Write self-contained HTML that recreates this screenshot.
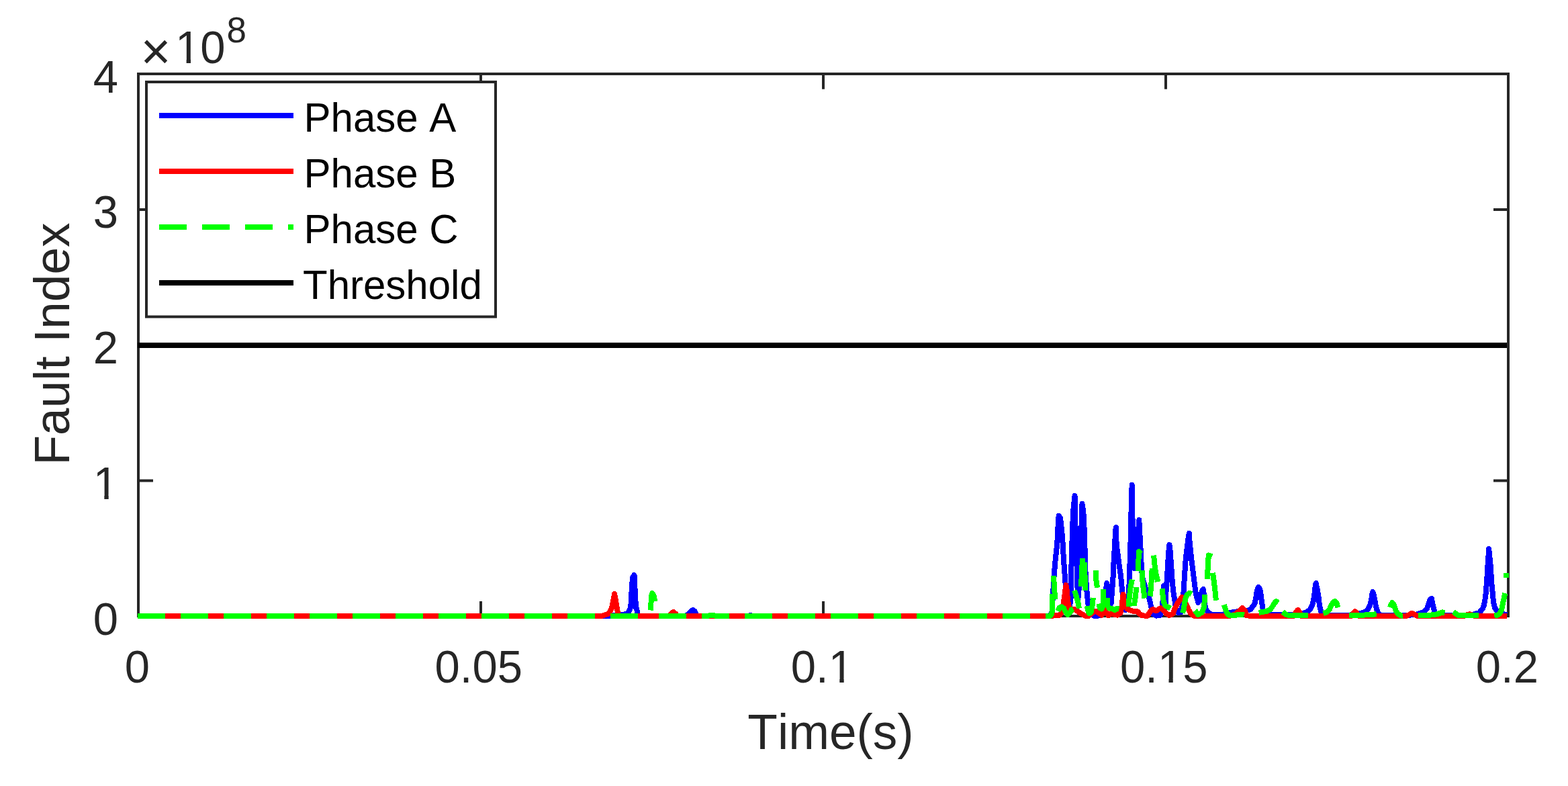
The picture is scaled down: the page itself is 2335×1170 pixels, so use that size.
<!DOCTYPE html>
<html lang="en">
<head>
<meta charset="utf-8">
<title>Fault Index vs Time</title>
<style>
html,body{margin:0;padding:0;background:#fff;}
body{width:2335px;height:1170px;overflow:hidden;}
svg{display:block;}
text{font-family:"Liberation Sans",sans-serif;font-kerning:none;font-variant-ligatures:none;}
.tick{font-size:67px;fill:#262626;}
.lab{font-size:73px;fill:#262626;}
.leg{font-size:60px;fill:#000;}
.ax{stroke:#262626;stroke-width:4;fill:none;stroke-linecap:butt;}
.d{fill:none;stroke-width:8;stroke-linejoin:round;stroke-linecap:butt;}
</style>
</head>
<body>
<svg width="2335" height="1170" viewBox="0 0 2335 1170">
<rect x="0" y="0" width="2335" height="1170" fill="#fff"/>
<g class="ax">
<rect x="206" y="110" width="2040" height="807"/>
<line x1="716" y1="917" x2="716" y2="895"/>
<line x1="716" y1="110" x2="716" y2="132.7"/>
<line x1="1226" y1="917" x2="1226" y2="895"/>
<line x1="1226" y1="110" x2="1226" y2="132.7"/>
<line x1="1736" y1="917" x2="1736" y2="895"/>
<line x1="1736" y1="110" x2="1736" y2="132.7"/>
<line x1="206" y1="715.50" x2="228" y2="715.50"/>
<line x1="2246" y1="715.50" x2="2224" y2="715.50"/>
<line x1="206" y1="513.60" x2="228" y2="513.60"/>
<line x1="2246" y1="513.60" x2="2224" y2="513.60"/>
<line x1="206" y1="312.00" x2="228" y2="312.00"/>
<line x1="2246" y1="312.00" x2="2224" y2="312.00"/>
</g>
<text class="tick" transform="translate(176.0 944.5) scale(1 1.01)" text-anchor="end">0</text>
<text class="tick" transform="translate(176.0 742.8) scale(1 1.01)" text-anchor="end">1</text>
<text class="tick" transform="translate(176.0 541.0) scale(1 1.01)" text-anchor="end">2</text>
<text class="tick" transform="translate(176.0 339.2) scale(1 1.01)" text-anchor="end">3</text>
<text class="tick" transform="translate(176.0 137.5) scale(1 1.01)" text-anchor="end">4</text>
<text class="tick" transform="translate(204.4 1016.0) scale(1 1.01)" text-anchor="middle">0</text>
<text class="tick" transform="translate(712.8 1016.0) scale(1 1.01)" text-anchor="middle">0.05</text>
<text class="tick" transform="translate(1224.4 1016.0) scale(1 1.01)" text-anchor="middle">0.1</text>
<text class="tick" transform="translate(1733.2 1016.0) scale(1 1.01)" text-anchor="middle">0.15</text>
<text class="tick" transform="translate(2244.4 1016.0) scale(1 1.01)" text-anchor="middle">0.2</text>
<text class="tick" x="209.5" y="103" style="font-size:77px">×</text>
<text class="tick" transform="translate(261.0 94.0) scale(1 1.01)">10</text>
<text class="tick" transform="translate(337.6 62.6) scale(1 1.01)" style="font-size:53px">8</text>
<text class="lab" transform="translate(1237 1114.8) scale(1 1.02)" text-anchor="middle">Time(s)</text>
<text class="lab" transform="translate(103.3 512) rotate(-90) scale(1 1.02)" text-anchor="middle">Fault Index</text>
<rect x="142.6" y="736.5" width="12.7" height="7.5" fill="#fff"/>
<rect x="161.7" y="736.5" width="12.4" height="7.5" fill="#fff"/>
<rect x="1237.6" y="1009.7" width="12.7" height="7.5" fill="#fff"/>
<rect x="1256.7" y="1009.7" width="12.4" height="7.5" fill="#fff"/>
<rect x="1727.8" y="1009.7" width="12.7" height="7.5" fill="#fff"/>
<rect x="1746.8" y="1009.7" width="12.4" height="7.5" fill="#fff"/>
<rect x="264.9" y="87.7" width="12.7" height="7.5" fill="#fff"/>
<rect x="284.0" y="87.7" width="12.4" height="7.5" fill="#fff"/>
<clipPath id="dc"><rect x="204.8" y="100" width="2043.5" height="825"/></clipPath>
<g class="d" clip-path="url(#dc)" shape-rendering="crispEdges">
<path stroke="#0000ff" d="M205.0 917.0 L890.0 917.0 L898.0 916.6 L911.0 916.5 L926.0 914.9 L933.7 913.9 L937.5 908.8 L939.4 901.9 L940.3 885.7 L941.1 870.3 L942.2 859.1 L944.4 856.1 L945.0 859.1 L945.1 876.3 L945.9 878.0 L945.9 894.2 L946.8 896.0 L947.2 905.4 L948.0 906.2 L948.9 910.5 L949.5 916.6 L955.0 917.0 L1015.0 917.0 L1021.0 916.5 L1024.5 915.2 L1027.5 911.4 L1030.0 908.8 L1031.7 907.9 L1033.9 909.2 L1035.6 912.2 L1037.3 916.6 L1042.0 917.0 L1114.0 917.0 L1117.3 916.0 L1120.5 917.0 L1562.0 917.0 L1566.5 912.0 L1568.1 883.3 L1569.7 856.0 L1571.5 835.0 L1574.2 810.0 L1575.4 786.2 L1576.3 772.1 L1576.7 767.6 L1579.0 771.2 L1579.8 777.2 L1580.9 787.9 L1582.0 799.4 L1583.0 815.3 L1583.9 832.0 L1585.2 849.7 L1586.5 867.7 L1587.5 884.0 L1589.5 905.0 L1592.0 910.0 L1594.6 890.0 L1595.1 855.1 L1596.0 821.3 L1597.0 790.0 L1598.1 761.4 L1599.2 751.1 L1600.1 740.0 L1600.5 738.0 L1601.0 740.0 L1601.1 778.5 L1602.3 792.0 L1604.1 868.0 L1605.5 890.0 L1607.5 868.0 L1609.3 792.0 L1611.0 778.5 L1611.3 752.8 L1611.5 750.0 L1611.9 752.0 L1613.0 760.1 L1613.9 769.1 L1614.9 795.1 L1615.8 826.8 L1616.7 857.0 L1617.8 871.1 L1618.9 885.7 L1620.5 900.0 L1624.0 912.0 L1629.0 916.6 L1636.0 916.6 L1641.0 911.0 L1644.5 897.0 L1646.3 884.0 L1647.2 875.0 L1648.3 868.0 L1650.5 880.0 L1652.3 897.0 L1654.6 898.5 L1656.3 877.1 L1657.6 858.3 L1658.1 844.0 L1659.2 825.1 L1660.2 808.0 L1661.1 791.0 L1661.8 785.0 L1662.0 798.1 L1662.9 812.3 L1664.6 825.1 L1666.7 841.4 L1669.2 858.3 L1670.5 873.0 L1673.0 895.0 L1676.0 908.0 L1679.0 905.0 L1681.2 879.1 L1682.1 851.7 L1683.2 819.1 L1684.0 790.0 L1684.2 776.0 L1685.1 734.0 L1685.7 722.0 L1686.0 722.4 L1686.0 769.1 L1687.4 779.0 L1688.0 810.0 L1689.5 846.0 L1693.2 810.0 L1695.6 782.8 L1696.3 774.0 L1697.1 790.0 L1698.0 806.3 L1699.3 831.1 L1699.9 847.7 L1701.8 862.0 L1704.5 871.0 L1706.3 877.0 L1711.4 891.1 L1714.6 904.6 L1717.2 914.2 L1722.0 916.6 L1728.0 915.8 L1731.0 902.8 L1732.3 884.8 L1733.0 872.0 L1734.2 890.0 L1735.0 905.0 L1735.8 898.5 L1736.2 884.8 L1737.4 868.2 L1738.1 857.9 L1739.0 841.2 L1740.0 826.3 L1741.0 812.1 L1741.5 811.0 L1742.0 813.4 L1742.9 824.1 L1743.9 838.0 L1745.2 858.3 L1746.5 872.8 L1747.8 884.8 L1749.1 891.7 L1751.0 905.0 L1754.5 912.0 L1759.0 911.0 L1761.0 900.0 L1762.3 884.8 L1763.1 871.1 L1764.0 858.3 L1765.0 841.1 L1766.1 828.0 L1767.2 820.3 L1768.1 812.1 L1769.1 804.4 L1770.2 796.3 L1770.8 794.0 L1771.2 802.3 L1772.2 812.1 L1773.1 822.0 L1774.2 832.0 L1775.5 842.0 L1777.2 855.7 L1778.5 866.0 L1779.8 876.2 L1781.0 884.8 L1784.4 897.0 L1787.5 888.0 L1790.5 878.5 L1791.8 877.0 L1792.8 884.8 L1793.6 898.5 L1796.0 907.0 L1799.4 912.0 L1804.0 914.8 L1820.0 914.8 L1837.0 911.0 L1858.5 908.5 L1862.7 906.8 L1868.5 898.5 L1870.2 890.0 L1871.5 881.4 L1872.8 876.2 L1874.3 873.9 L1876.3 877.1 L1877.6 884.8 L1878.8 895.1 L1880.1 902.8 L1881.0 909.7 L1883.0 914.8 L1900.0 915.3 L1926.3 915.3 L1940.0 912.9 L1945.1 911.4 L1948.5 909.2 L1951.5 906.2 L1954.1 901.1 L1956.0 894.2 L1957.3 885.7 L1958.4 875.4 L1959.4 868.5 L1959.8 868.0 L1960.3 871.1 L1961.6 876.3 L1962.9 884.8 L1963.8 890.0 L1964.6 898.5 L1965.9 905.4 L1967.6 911.4 L1969.1 915.2 L1985.0 915.6 L2008.5 915.8 L2024.8 913.1 L2029.0 912.0 L2034.2 910.1 L2037.2 906.7 L2039.7 902.0 L2041.2 896.8 L2042.5 890.0 L2043.3 884.8 L2044.3 881.0 L2045.6 884.8 L2046.9 891.7 L2048.1 897.7 L2049.0 902.8 L2050.4 908.0 L2052.2 912.2 L2054.7 916.0 L2070.0 916.0 L2089.1 916.0 L2106.3 915.3 L2113.1 913.5 L2118.2 911.8 L2121.7 909.7 L2124.8 906.2 L2127.0 900.2 L2128.7 895.1 L2130.4 891.5 L2131.9 891.0 L2132.6 895.1 L2133.9 901.1 L2135.2 906.2 L2136.5 910.5 L2138.8 915.2 L2160.0 916.0 L2181.6 916.4 L2192.8 915.3 L2197.0 913.7 L2202.6 912.2 L2207.9 906.2 L2209.9 901.1 L2211.3 893.4 L2212.6 884.0 L2213.5 872.8 L2214.3 862.5 L2214.9 850.0 L2215.9 836.0 L2217.0 820.0 L2217.0 817.0 L2217.5 820.0 L2218.0 826.0 L2219.0 834.5 L2220.0 845.0 L2220.4 853.1 L2221.3 868.5 L2222.6 881.4 L2223.4 890.0 L2224.3 897.7 L2226.0 904.9 L2229.2 909.7 L2232.2 912.2 L2244.0 915.3"/>
<path stroke="#ff0000" d="M205.0 917.0 L896.0 917.0 L902.0 915.0 L906.5 913.5 L911.0 905.0 L915.2 884.0 L919.8 911.0 L921.5 917.0 L996.0 917.0 L999.3 913.5 L1002.6 910.9 L1006.0 913.5 L1009.0 917.0 L1557.1 916.7 L1570.0 916.5 L1577.7 915.7 L1581.1 912.2 L1582.8 903.7 L1584.1 895.1 L1585.4 886.5 L1586.7 876.3 L1587.5 871.1 L1588.4 876.3 L1589.3 884.8 L1590.1 893.4 L1591.0 900.2 L1592.7 906.2 L1595.7 908.4 L1600.0 906.8 L1605.1 910.3 L1610.2 913.7 L1615.4 916.5 L1620.5 917.4 L1625.7 913.1 L1631.2 909.8 L1636.8 912.8 L1640.6 915.7 L1645.4 908.1 L1650.5 916.1 L1654.8 913.5 L1659.9 914.8 L1664.2 915.7 L1668.5 912.5 L1670.2 905.0 L1671.0 897.0 L1672.0 889.0 L1672.6 885.0 L1673.6 893.4 L1675.2 901.0 L1678.5 906.3 L1682.0 907.9 L1685.6 909.4 L1694.2 910.3 L1696.8 913.7 L1700.2 916.1 L1708.5 917.0 L1711.5 912.5 L1714.5 908.3 L1717.2 907.0 L1721.6 909.4 L1728.3 905.1 L1733.0 909.0 L1737.0 913.5 L1741.4 916.0 L1746.8 913.6 L1750.0 904.6 L1754.5 896.3 L1758.3 891.1 L1760.2 889.0 L1764.0 895.5 L1768.0 903.3 L1770.5 908.5 L1773.1 913.0 L1776.3 915.8 L1779.5 917.1 L1834.1 916.5 L1840.5 913.6 L1845.7 909.1 L1850.2 905.1 L1854.2 909.4 L1856.5 916.5 L1926.0 917.0 L1929.5 912.0 L1932.7 907.9 L1935.5 912.0 L1938.5 917.0 L2012.0 917.0 L2015.0 913.0 L2017.7 910.1 L2020.5 913.0 L2024.0 917.0 L2094.3 917.0 L2098.5 915.0 L2102.8 912.8 L2107.0 915.0 L2111.0 917.0 L2180.0 917.0 L2184.0 915.5 L2188.5 914.1 L2192.0 915.5 L2196.0 917.0 L2244.0 917.0"/>
<path stroke="#00ff00" d="M205.0 917.0 L246.0 917.0"/>
<path stroke="#00ff00" d="M269.0 917.0 L310.0 917.0"/>
<path stroke="#00ff00" d="M333.0 917.0 L374.0 917.0"/>
<path stroke="#00ff00" d="M397.0 917.0 L438.0 917.0"/>
<path stroke="#00ff00" d="M461.0 917.0 L502.0 917.0"/>
<path stroke="#00ff00" d="M525.0 917.0 L566.0 917.0"/>
<path stroke="#00ff00" d="M589.0 917.0 L630.0 917.0"/>
<path stroke="#00ff00" d="M653.0 917.0 L694.0 917.0"/>
<path stroke="#00ff00" d="M717.0 917.0 L758.0 917.0"/>
<path stroke="#00ff00" d="M781.0 917.0 L822.0 917.0"/>
<path stroke="#00ff00" d="M845.0 917.0 L886.0 917.0"/>
<path stroke="#00ff00" d="M909.0 917.0 L950.0 917.0"/>
<path stroke="#00ff00" d="M968.8 908.5 L969.6 896.0 L970.5 885.7 L971.3 883.1 L974.3 888.2 L974.8 895.1"/>
<path stroke="#00ff00" d="M981.0 917.0 L1022.0 917.0"/>
<path stroke="#00ff00" d="M1045.0 917.0 L1054.0 917.0 L1057.5 916.0 L1062.5 916.0 L1066.0 917.0 L1086.0 917.0"/>
<path stroke="#00ff00" d="M1109.0 917.0 L1150.0 917.0"/>
<path stroke="#00ff00" d="M1173.0 917.0 L1214.0 917.0"/>
<path stroke="#00ff00" d="M1237.0 917.0 L1278.0 917.0"/>
<path stroke="#00ff00" d="M1301.0 917.0 L1342.0 917.0"/>
<path stroke="#00ff00" d="M1365.0 917.0 L1406.0 917.0"/>
<path stroke="#00ff00" d="M1429.0 917.0 L1470.0 917.0"/>
<path stroke="#00ff00" d="M1493.0 917.0 L1534.0 917.0"/>
<path stroke="#00ff00" d="M1556.9 917.0 L1563.5 917.0 L1566.2 914.0 L1567.0 907.8 L1567.3 884.0"/>
<path stroke="#00ff00" d="M1569.0 856.8 L1570.1 875.7 L1571.2 892.5"/>
<path stroke="#00ff00" d="M1575.2 909.4 L1577.5 904.9 L1580.7 903.4 L1583.9 905.2 L1586.5 910.4 L1590.0 914.9 L1593.5 911.7 L1596.1 907.2 L1598.0 906.2"/>
<path stroke="#00ff00" d="M1600.0 878.9 L1602.2 886.0 L1604.5 893.7 L1606.4 901.4 L1606.7 905.6"/>
<path stroke="#00ff00" d="M1610.0 873.1 L1612.0 831.1"/>
<path stroke="#00ff00" d="M1615.0 837.1 L1616.2 879.1"/>
<path stroke="#00ff00" d="M1618.9 902.0 L1619.9 907.8 L1622.1 913.3 L1624.7 911.0 L1626.3 903.3 L1627.3 895.0 L1627.9 889.8"/>
<path stroke="#00ff00" d="M1632.2 849.1 L1632.2 862.0 L1634.0 874.8"/>
<path stroke="#00ff00" d="M1636.3 898.8 L1637.9 905.2 L1640.4 906.5 L1642.7 901.4 L1642.9 877.0"/>
<path stroke="#00ff00" d="M1649.3 890.1 L1649.4 901.4 L1651.4 905.2 L1657.1 906.5 L1660.4 908.1 L1663.2 905.9 L1666.5 906.5"/>
<path stroke="#00ff00" d="M1680.9 903.3 L1681.4 892.7 L1682.6 882.4 L1683.6 874.2 L1684.6 868.7 L1685.9 862.5"/>
<path stroke="#00ff00" d="M1688.9 902.0 L1689.8 895.0 L1690.7 889.3 L1691.5 882.4 L1692.0 874.2"/>
<path stroke="#00ff00" d="M1694.5 850.4 L1695.5 832.4 L1696.2 821.0 L1698.8 824.5"/>
<path stroke="#00ff00" d="M1700.6 849.4 L1701.5 865.3 L1702.5 874.2 L1703.5 882.4 L1704.0 890.6"/>
<path stroke="#00ff00" d="M1712.9 887.5 L1714.1 872.1 L1715.2 858.4 L1715.6 846.2"/>
<path stroke="#00ff00" d="M1718.1 826.6 L1719.9 844.6 L1721.7 855.0 L1723.4 861.9 L1724.3 866.0"/>
<path stroke="#00ff00" d="M1730.7 876.3 L1731.7 887.3 L1732.9 895.6 L1735.2 901.4 L1739.0 903.3 L1742.9 905.6"/>
<path stroke="#00ff00" d="M1760.9 912.6 L1762.5 907.8 L1764.1 897.5 L1765.7 889.8 L1768.3 884.7 L1771.8 882.8 L1774.4 884.0"/>
<path stroke="#00ff00" d="M1779.5 908.8 L1784.3 914.9 L1789.8 911.7 L1792.7 904.6 L1793.6 896.3 L1794.3 885.0"/>
<path stroke="#00ff00" d="M1797.9 862.2 L1798.9 840.0 L1799.8 826.5 L1804.9 828.4"/>
<path stroke="#00ff00" d="M1806.0 852.8 L1807.8 865.4 L1809.4 878.9 L1810.9 893.7"/>
<path stroke="#00ff00" d="M1822.9 900.1 L1824.8 906.5 L1827.4 913.0 L1830.9 916.2 L1839.9 915.7 L1849.5 914.6 L1852.7 915.5"/>
<path stroke="#00ff00" d="M1874.7 911.8 L1880.0 910.9 L1886.9 909.7 L1892.0 907.1 L1895.4 901.9 L1898.4 896.8 L1900.6 895.1 L1903.6 897.2"/>
<path stroke="#00ff00" d="M1910.1 910.8 L1914.3 914.4 L1917.7 915.7 L1948.1 915.7"/>
<path stroke="#00ff00" d="M1970.6 913.1 L1975.9 911.2 L1979.8 907.1 L1982.4 901.1 L1985.4 896.4 L1988.1 895.1 L1990.5 897.7 L1992.4 904.3"/>
<path stroke="#00ff00" d="M2009.3 916.1 L2029.9 915.7 L2038.5 914.8 L2049.6 914.4"/>
<path stroke="#00ff00" d="M2069.9 904.1 L2071.6 899.4 L2073.3 897.2 L2075.4 899.4 L2077.1 904.5 L2078.8 909.7 L2081.8 913.9 L2085.7 916.3 L2089.0 916.7"/>
<path stroke="#00ff00" d="M2112.1 916.1 L2126.8 915.8 L2135.4 915.2 L2142.2 913.5 L2148.2 911.4 L2151.6 911.8"/>
<path stroke="#00ff00" d="M2164.5 910.5 L2167.9 913.5 L2172.2 916.1 L2201.8 916.3"/>
<path stroke="#00ff00" d="M2225.3 916.3 L2229.2 915.9 L2233.0 913.5 L2235.6 908.8 L2237.3 901.9 L2239.0 893.4 L2240.6 886.5 L2241.4 883.1"/>
<path stroke="#00ff00" d="M2243.0 860.0 L2243.2 853.0"/>
<path stroke="#000" d="M205 513.75 H2244"/>
</g>
<rect x="218" y="122" width="520" height="349.5" fill="#fff" stroke="#262626" stroke-width="4"/>
<line x1="237" y1="172" x2="437" y2="172" stroke="#0000ff" stroke-width="8"/>
<text class="leg" transform="translate(452.5 195.5) scale(1 1.02)">Phase A</text>
<line x1="237" y1="255" x2="437" y2="255" stroke="#ff0000" stroke-width="8"/>
<text class="leg" transform="translate(452.5 278.5) scale(1 1.02)">Phase B</text>
<line x1="237" y1="338" x2="437" y2="338" stroke="#00ff00" stroke-width="8" stroke-dasharray="41 23"/>
<text class="leg" transform="translate(452.5 361.5) scale(1 1.02)">Phase C</text>
<line x1="237" y1="421" x2="437" y2="421" stroke="#000000" stroke-width="8"/>
<text class="leg" transform="translate(451 444.5) scale(1 1.02)">Threshold</text>
</svg>
</body>
</html>
